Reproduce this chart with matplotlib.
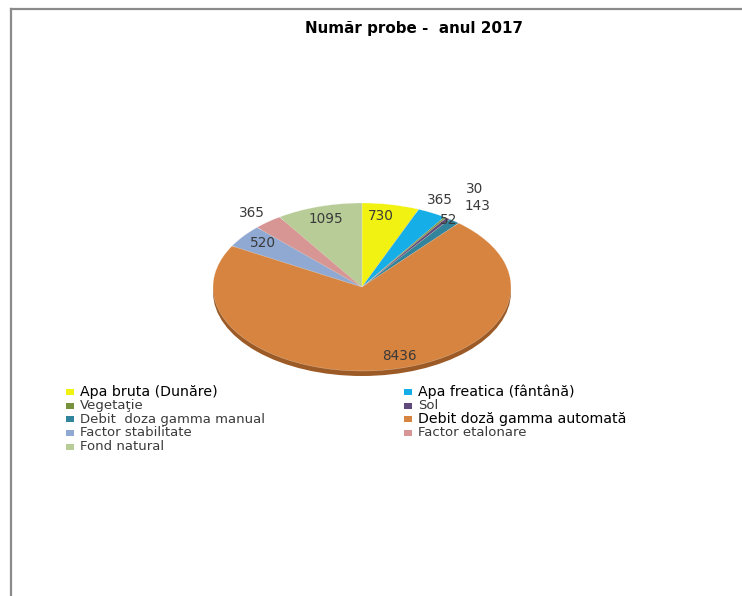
import numpy as np
import matplotlib
matplotlib.use("Agg")
import matplotlib.pyplot as plt
from matplotlib.patches import Ellipse, Rectangle
from matplotlib.lines import Line2D

# ---- data ----
title = "Număr probe -  anul 2017"
categories = ["Apa bruta (Dunăre)", "Apa freatica (fântână)", "Vegetaţie", "Sol",
              "Debit  doza gamma manual", "Debit doză gamma automată",
              "Factor stabilitate", "Factor etalonare", "Fond natural"]
values = [730, 365, 30, 52, 143, 8436, 520, 365, 1095]
colors = ["#F2F212", "#16AEE6", "#76923C", "#5F4A7B", "#31849B", "#D6843F",
          "#8FA9D2", "#D79593", "#B8CC98"]

# label layout (radius in pie units, angular nudge in degrees)
label_r = [0.855, 1.16, 1.388, 0.989, 1.235, 0.858, 0.846, 1.149, 0.845]
label_shift = [2.6, 1.2, 1.2, -0.9, -0.4, 6.7, -1.0, 0.7, -0.2]
legend_big = [True, True, False, False, False, True, False, False, False]

W, H = 742, 596
fig = plt.figure(figsize=(W / 100, H / 100), dpi=100)
fig.patch.set_facecolor("white")

# frame
fig.add_artist(Line2D([11 / W, 11 / W], [0, 1 - 9 / H], color="#8a8a8a", lw=1.6,
                      transform=fig.transFigure))
fig.add_artist(Line2D([11 / W, 1], [1 - 9 / H, 1 - 9 / H], color="#8a8a8a", lw=1.6,
                      transform=fig.transFigure))

fig.text(414 / W, 1 - 28 / H, title, ha="center", va="center",
         fontsize=10.9, fontweight="bold", color="black")

# pie axes: ellipse centre (362, 287) px, rx 149, ry 84, side thickness 5 px
cx, cy, rx, ry, th = 362, 287, 149, 84, 5
ax = fig.add_axes([(cx - rx) / W, 1 - (cy + ry + th) / H, 2 * rx / W, (2 * ry + th) / H])
ax.set_xlim(-1, 1)
ax.set_ylim(-1 - th / ry, 1)
ax.axis("off")

# side of the 3D pie
ax.add_patch(Ellipse((0, -th / ry), 2, 2, facecolor="#9C5A26", edgecolor="none", zorder=0))

wedges, _ = ax.pie(values, colors=colors, startangle=90, counterclock=False,
                   wedgeprops=dict(linewidth=0.3, edgecolor="#ffffff80"))
ax.set_aspect("auto")
ax.set_xlim(-1, 1)
ax.set_ylim(-1 - th / ry, 1)

for w, v, r, s in zip(wedges, values, label_r, label_shift):
    mid = np.deg2rad((w.theta1 + w.theta2) / 2 + s)
    ax.text(r * np.cos(mid), r * np.sin(mid), str(v), ha="center", va="center",
            fontsize=9.8, color="#3a3a3a", zorder=5)

# legend (row-major, two columns)
rows_y = [392, 405.5, 419, 433, 447]
col_x = [66, 404]
for i, (lab, col, big) in enumerate(zip(categories, colors, legend_big)):
    r, c = divmod(i, 2)
    x, y = col_x[c], rows_y[r]
    fig.add_artist(Rectangle((x / W, 1 - (y + 3) / H), 8 / W, 6 / H,
                             transform=fig.transFigure, facecolor=col, edgecolor="none"))
    fig.text((x + 14) / W, 1 - y / H, lab, ha="left", va="center",
             fontsize=10.2 if big else 9.5, color="black" if big else "#3a3a3a")

fig.savefig("out.png", dpi=100, facecolor="white")
